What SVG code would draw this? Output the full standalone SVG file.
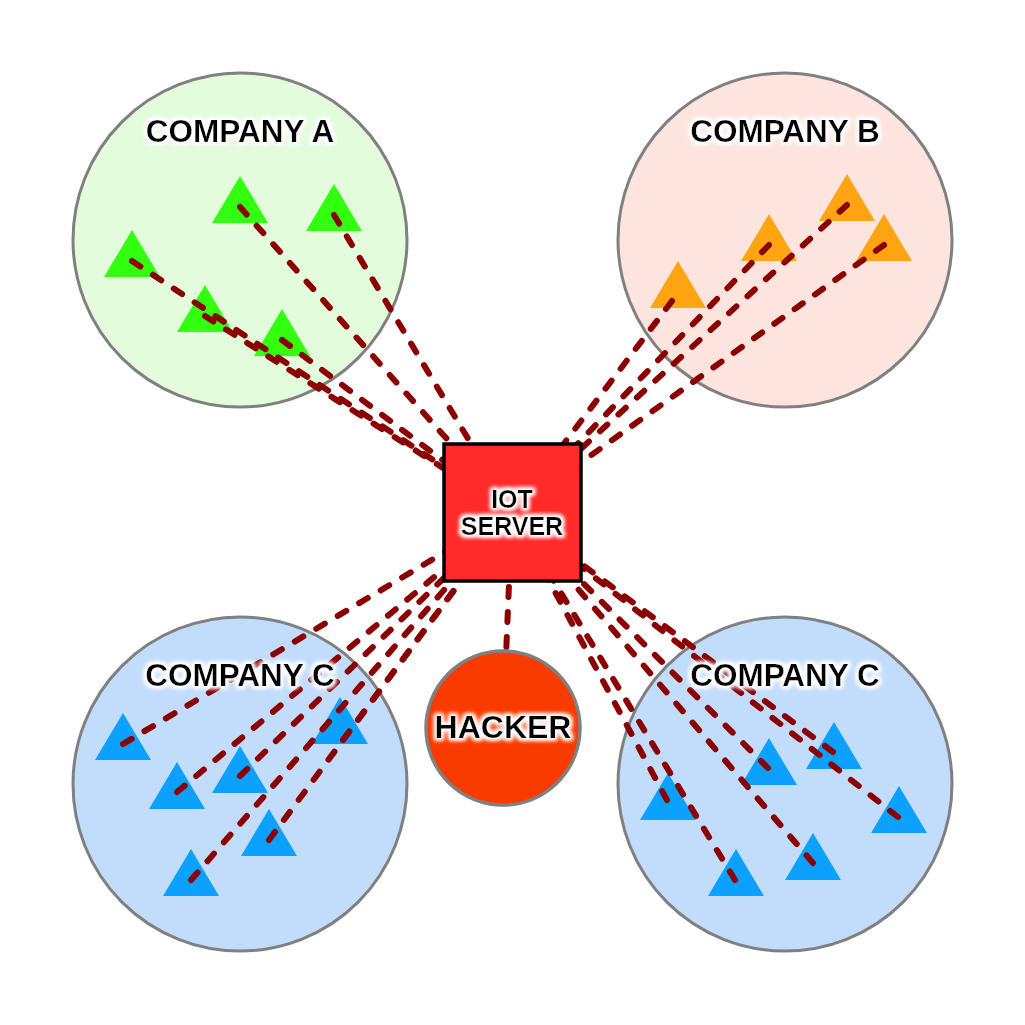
<svg xmlns="http://www.w3.org/2000/svg" width="1025" height="1025" viewBox="0 0 1025 1025">
<style>
.zone{stroke:#808080;stroke-width:3}
.label{font-family:"Liberation Sans",Arial,sans-serif;font-weight:bold;fill:#000;text-anchor:middle}
.link{stroke:#8b0000;stroke-width:6;stroke-linecap:round;stroke-dasharray:10 15;fill:none}
.tg{fill:#33ff10}.to{fill:#ffa511}.tb{fill:#0ca0ff}
</style>
<defs>
<path id="tri" d="M0,-31 L28,16 L-28,16 Z"/>
<filter id="glow" x="-20%" y="-60%" width="140%" height="220%">
<feMorphology in="SourceAlpha" operator="dilate" radius="1.5" result="d"/>
<feGaussianBlur in="d" stdDeviation="2" result="b"/>
<feFlood flood-color="#ffffff"/>
<feComposite in2="b" operator="in" result="g"/>
<feMerge><feMergeNode in="g"/><feMergeNode in="g"/><feMergeNode in="SourceGraphic"/></feMerge>
</filter>
</defs>
<rect width="1025" height="1025" fill="#ffffff"/>

<g id="company-a">
<circle class="zone" cx="240" cy="240" r="167" fill="#e2fcdc"/>
<use href="#tri" class="tg" x="240" y="207"/>
<use href="#tri" class="tg" x="334" y="215"/>
<use href="#tri" class="tg" x="132" y="261"/>
<use href="#tri" class="tg" x="205" y="316"/>
<use href="#tri" class="tg" x="282" y="340"/>
</g>
<g id="company-b">
<circle class="zone" cx="785" cy="240" r="167" fill="#fde4de"/>
<use href="#tri" class="to" x="847" y="205"/>
<use href="#tri" class="to" x="769" y="245"/>
<use href="#tri" class="to" x="884" y="245"/>
<use href="#tri" class="to" x="678" y="292"/>
</g>
<g id="company-c-left">
<circle class="zone" cx="240" cy="784" r="167" fill="#c2dcfb"/>
<use href="#tri" class="tb" x="123" y="744"/>
<use href="#tri" class="tb" x="177" y="793"/>
<use href="#tri" class="tb" x="240" y="777"/>
<use href="#tri" class="tb" x="340" y="728"/>
<use href="#tri" class="tb" x="269" y="840"/>
<use href="#tri" class="tb" x="191" y="880"/>
</g>
<g id="company-c-right">
<circle class="zone" cx="785" cy="784" r="167" fill="#c2dcfb"/>
<use href="#tri" class="tb" x="668" y="804"/>
<use href="#tri" class="tb" x="736" y="880"/>
<use href="#tri" class="tb" x="769" y="769"/>
<use href="#tri" class="tb" x="813" y="864"/>
<use href="#tri" class="tb" x="834" y="753"/>
<use href="#tri" class="tb" x="899" y="817"/>
</g>

<g id="connectors">
<line class="link" x1="240" y1="207" x2="512" y2="512"/>
<line class="link" x1="334" y1="215" x2="512" y2="512"/>
<line class="link" x1="132" y1="261" x2="512" y2="512"/>
<line class="link" x1="205" y1="316" x2="512" y2="512"/>
<line class="link" x1="282" y1="340" x2="512" y2="512"/>
<line class="link" x1="847" y1="205" x2="512" y2="512"/>
<line class="link" x1="769" y1="245" x2="512" y2="512"/>
<line class="link" x1="884" y1="245" x2="512" y2="512"/>
<line class="link" x1="672" y1="301" x2="512" y2="512"/>
<line class="link" x1="123" y1="744" x2="512" y2="512"/>
<line class="link" x1="177" y1="792" x2="512" y2="512"/>
<line class="link" x1="240" y1="776" x2="512" y2="512"/>
<line class="link" x1="343" y1="740" x2="512" y2="512"/>
<line class="link" x1="269" y1="840" x2="512" y2="512"/>
<line class="link" x1="191" y1="880" x2="512" y2="512"/>
<line class="link" x1="667" y1="800" x2="512" y2="512"/>
<line class="link" x1="735" y1="880" x2="512" y2="512"/>
<line class="link" x1="768" y1="768" x2="512" y2="512"/>
<line class="link" x1="813" y1="863" x2="512" y2="512"/>
<line class="link" x1="833" y1="752" x2="512" y2="512"/>
<line class="link" x1="898" y1="817" x2="512" y2="512"/>
<line class="link" x1="512" y1="512" x2="503" y2="728"/>
</g>

<g id="iot-server">
<rect x="444" y="444" width="137" height="137" fill="#ff2a2a" stroke="#000" stroke-width="3.5"/>
<text class="label" x="512" y="508" font-size="25" filter="url(#glow)">IOT</text>
<text class="label" x="512" y="535" font-size="25" filter="url(#glow)">SERVER</text>
</g>
<g id="hacker">
<circle cx="503" cy="728" r="77" fill="#f93b00" stroke="#808080" stroke-width="3.5"/>
<text class="label" x="503" y="738" font-size="32" filter="url(#glow)">HACKER</text>
</g>

<g id="labels">
<text class="label" x="240" y="142" font-size="31.5" filter="url(#glow)">COMPANY A</text>
<text class="label" x="785" y="142" font-size="31.5" filter="url(#glow)">COMPANY B</text>
<text class="label" x="240" y="686" font-size="31.5" filter="url(#glow)">COMPANY C</text>
<text class="label" x="785" y="686" font-size="31.5" filter="url(#glow)">COMPANY C</text>
</g>
</svg>
